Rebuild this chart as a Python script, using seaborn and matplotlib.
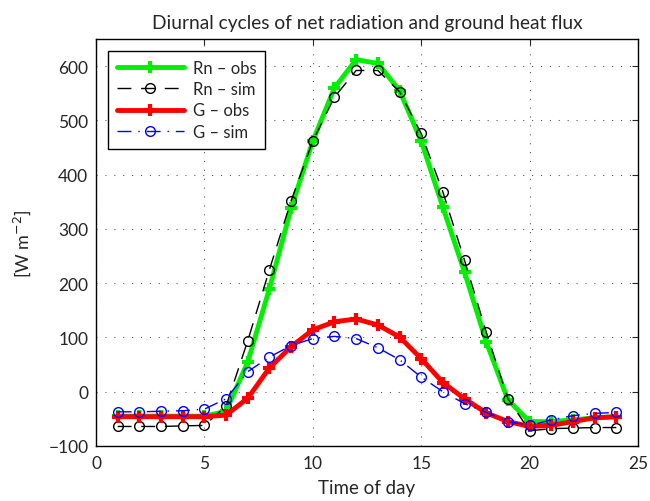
import numpy as np
import pandas as pd
import seaborn as sns
import matplotlib
matplotlib.use("Agg")
import matplotlib.pyplot as plt

hours = list(range(1, 25))
rn_obs = [-45, -45, -45, -45, -45, -36, 55, 190, 338, 462, 560, 612, 605, 555,
          462, 340, 220, 92, -15, -55, -55, -52, -48, -46]
rn_sim = [-64, -64, -64, -63, -62, -26, 94, 225, 352, 462, 543, 592, 592, 553,
          476, 368, 242, 110, -13, -72, -68, -67, -66, -66]
g_obs = [-46, -46, -46, -46, -46, -43, -12, 44, 83, 114, 129, 134, 123, 101,
         61, 17, -13, -39, -55, -64, -62, -55, -48, -46]
g_sim = [-37, -37, -36, -35, -32, -13, 37, 64, 85, 98, 102, 98, 81, 59,
         27, 0, -22, -38, -55, -62, -52, -44, -40, -38]

df = pd.DataFrame({"hour": hours, "Rn_obs": rn_obs, "Rn_sim": rn_sim,
                   "G_obs": g_obs, "G_sim": g_sim})

sns.set_style("white")
plt.rcParams['font.family'] = ['Lato', 'DejaVu Sans']

fig = plt.figure(figsize=(6.5, 5.02), dpi=100)
ax = fig.add_axes([96/650, 1-447/502, (638-96)/650, (447-40)/502])

green = "#00f000"
sns.lineplot(data=df, x="hour", y="Rn_obs", ax=ax, color=green, lw=3.5,
             marker="+", markersize=9, mew=3, mec=green, label="Rn – obs")
sns.lineplot(data=df, x="hour", y="Rn_sim", ax=ax, color="black", lw=1.0,
             linestyle=(0, (10, 7)), marker="o", markersize=7, mfc="none",
             mec="black", mew=1.0, label="Rn – sim")
sns.lineplot(data=df, x="hour", y="G_obs", ax=ax, color="red", lw=3.5,
             marker="+", markersize=9, mew=3, mec="red", label="G – obs")
sns.lineplot(data=df, x="hour", y="G_sim", ax=ax, color="blue", lw=1.0,
             linestyle=(0, (10, 5, 1, 5)), marker="o", markersize=7, mfc="none",
             mec="blue", mew=1.0, label="G – sim")

ax.set_xlim(0, 25)
ax.set_ylim(-100, 650)
ax.set_xticks(np.arange(0, 26, 5))
ax.set_yticks(np.arange(-100, 601, 100))
ax.grid(True, linestyle=(0, (1, 7)), color="#333333", lw=0.8, alpha=0.8)
ax.tick_params(direction="in", length=4, labelsize=12.5, top=True, right=True, width=0.8)
ax.tick_params(axis="x", pad=6.5)
ax.tick_params(axis="y", pad=5.5)
for s in ax.spines.values():
    s.set_color("black")
    s.set_linewidth(1.0)
ax.set_xlabel("Time of day", fontsize=13.5, labelpad=6)
ax.set_ylabel("[W m$^{-2}$]", fontsize=13, labelpad=11)
ax.set_title("Diurnal cycles of net radiation and ground heat flux", fontsize=13.8, pad=8)

leg = ax.legend(loc="upper left", fontsize=12, frameon=True, fancybox=False,
                edgecolor="black", framealpha=1, handlelength=4.0,
                handletextpad=0.55, borderpad=0.55,
                borderaxespad=0.7, labelspacing=0.32)
leg.get_frame().set_linewidth(1.0)

fig.savefig("out.png", dpi=100)
